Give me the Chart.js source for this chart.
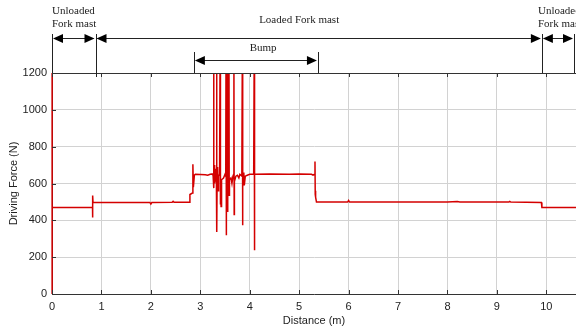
<!DOCTYPE html>
<html>
<head>
<meta charset="utf-8">
<script src="https://cdn.jsdelivr.net/npm/chart.js@4"></script>
<style>
  body { margin: 0; background: #fff; }
  canvas { display: block; }
</style>
</head>
<body>
<canvas id="forceChart" width="576" height="332"></canvas>
<script>
// distance (m) and driving force (N)
const distance = [
  0, 0, 0.005, 0.82, 0.82, 0.825, 0.83,
  1.98, 2.0, 2.02, 2.43, 2.45, 2.47, 2.78,
  2.79, 2.84, 2.85, 2.86, 2.88, 2.9, 3.1, 3.15, 3.2, 3.25,
  3.26, 3.27, 3.275, 3.28, 3.29, 3.3, 3.31,
  3.325, 3.33, 3.335, 3.34, 3.35, 3.36, 3.37,
  3.39, 3.4, 3.405, 3.41, 3.42, 3.43,
  3.47, 3.5, 3.515, 3.52, 3.525, 3.53, 3.545, 3.55, 3.555, 3.56, 3.575, 3.58, 3.585, 3.59,
  3.62, 3.64, 3.66, 3.675, 3.68, 3.685, 3.69, 3.72, 3.75, 3.78, 3.8, 3.84,
  3.85, 3.855, 3.86, 3.88, 3.89, 3.91, 3.95, 4.0, 4.08, 4.09, 4.095, 4.1,
  4.4, 4.8, 5.0, 5.25, 5.28, 5.31, 5.32, 5.325, 5.33, 5.335, 5.35,
  5.98, 6.0, 6.02, 7.5, 8.0, 8.2, 8.25, 9.24, 9.26, 9.28, 9.9, 9.91, 10.6
];
const force = [
  0, 1200, 470, 470, 415, 535, 497,
  497, 488, 497, 498, 503, 498, 498,
  540, 548, 705, 580, 645, 650, 648, 645, 650, 652,
  640, 1300, 575, 700, 600, 680, 610,
  630, 1300, 337, 620, 690, 560, 640,
  650, 1300, 486, 640, 475, 620,
  630, 650, 640, 1300, 319, 600, 650, 1300, 445, 620, 640, 1300, 536, 620,
  630, 600, 640, 650, 1300, 432, 610, 640, 645, 630, 650, 640,
  1300, 373, 580, 660, 590, 640, 645, 650, 650, 1300, 238, 650,
  652, 650, 652, 650, 645, 650, 719, 540, 560, 526, 499,
  499, 508, 499, 500, 499, 502, 499, 499, 503, 499, 497, 470, 470
];
const xTicks = [0, 1, 2, 3, 4, 5, 6, 7, 8, 9, 10];
const yTicks = [0, 200, 400, 600, 800, 1000, 1200];

// annotation arrows above the plot (distance units)
const spans = [
  { from: 0, to: 0.88, y: 38 },
  { from: 0.88, to: 9.91, y: 38 },
  { from: 9.91, to: 10.56, y: 38 },
  { from: 2.87, to: 5.38, y: 60 }
];
const markers = [
  { at: 0, top: 34, bottom: 73 },
  { at: 0.88, top: 34, bottom: 77 },
  { at: 9.91, top: 34, bottom: 73 },
  { at: 10.56, top: 34, bottom: 73 },
  { at: 2.87, top: 52, bottom: 73 },
  { at: 5.38, top: 52, bottom: 73 }
];
const notes = [
  { text: 'Unloaded', at: 0, y: 11, align: 'left' },
  { text: 'Fork mast', at: 0, y: 24, align: 'left' },
  { text: 'Loaded Fork mast', at: 5.0, y: 20, align: 'center' },
  { text: 'Bump', at: 4.27, y: 48, align: 'center' },
  { text: 'Unloaded', at: 9.83, y: 11, align: 'left' },
  { text: 'Fork mast', at: 9.83, y: 24, align: 'left' }
];

const points = distance.map((d, i) => ({ x: d, y: force[i] }));

function arrowHead(ctx, x, y, dir) {
  ctx.beginPath();
  ctx.moveTo(x, y);
  ctx.lineTo(x - dir * 10, y - 4.5);
  ctx.lineTo(x - dir * 10, y + 4.5);
  ctx.closePath();
  ctx.fill();
}

const framePlugin = {
  id: 'frame',
  afterDraw(chart) {
    const ctx = chart.ctx;
    const xs = chart.scales.x, ys = chart.scales.y;
    const a = chart.chartArea;
    ctx.save();
    // box top + inward ticks
    ctx.strokeStyle = '#333';
    ctx.lineWidth = 1;
    ctx.beginPath();
    ctx.moveTo(a.left, a.top + 0.5);
    ctx.lineTo(a.right, a.top + 0.5);
    xTicks.forEach(t => {
      const px = Math.round(xs.getPixelForValue(t)) + 0.5;
      ctx.moveTo(px, a.bottom);
      ctx.lineTo(px, a.bottom - 4);
      ctx.moveTo(px, a.top);
      ctx.lineTo(px, a.top + 4);
    });
    yTicks.forEach(t => {
      const py = Math.round(ys.getPixelForValue(t)) + 0.5;
      ctx.moveTo(a.left, py);
      ctx.lineTo(a.left + 4, py);
    });
    ctx.stroke();

    // annotation arrows
    ctx.strokeStyle = '#222';
    ctx.fillStyle = '#000';
    ctx.beginPath();
    markers.forEach(m => {
      const px = Math.round(xs.getPixelForValue(m.at)) + 0.5;
      ctx.moveTo(px, m.top);
      ctx.lineTo(px, m.bottom);
    });
    ctx.stroke();
    spans.forEach(s => {
      const x1 = xs.getPixelForValue(s.from), x2 = xs.getPixelForValue(s.to);
      ctx.beginPath();
      ctx.moveTo(x1 + 2, s.y + 0.5);
      ctx.lineTo(x2 - 2, s.y + 0.5);
      ctx.stroke();
      arrowHead(ctx, x1 + 1, s.y + 0.5, -1);
      arrowHead(ctx, x2 - 1, s.y + 0.5, 1);
    });
    ctx.font = '11px "Liberation Serif", serif';
    ctx.fillStyle = '#222';
    ctx.textBaseline = 'middle';
    notes.forEach(n => {
      ctx.textAlign = n.align;
      ctx.fillText(n.text, xs.getPixelForValue(n.at), n.y);
    });
    ctx.restore();
  }
};

const tickFont = { family: '"Liberation Sans", Arial, sans-serif', size: 11 };

new Chart(document.getElementById('forceChart'), {
  type: 'line',
  data: {
    datasets: [{
      data: points,
      borderColor: '#d40000',
      borderWidth: 1.5,
      pointRadius: 0,
      tension: 0,
      fill: false,
      clip: { left: 3, top: 0, right: 0, bottom: 0 }
    }]
  },
  options: {
    responsive: false,
    animation: false,
    devicePixelRatio: 1,
    layout: { padding: { top: 73, right: 0, left: 0, bottom: 0 } },
    plugins: { legend: { display: false }, tooltip: { enabled: false } },
    scales: {
      x: {
        type: 'linear',
        min: 0,
        max: 10.6,
        afterFit: s => { s.height = 38; },
        afterBuildTicks: s => { s.ticks = xTicks.map(v => ({ value: v })); },
        grid: { color: '#d2d2d2', drawTicks: false },
        border: { color: '#333' },
        ticks: { padding: 6, color: '#222', font: tickFont, callback: v => String(v) },
        title: {
          display: true,
          text: 'Distance (m)',
          color: '#222',
          padding: { top: 0, bottom: 4 },
          font: tickFont
        }
      },
      y: {
        min: 0,
        max: 1200,
        afterFit: s => { s.width = 52; },
        afterBuildTicks: s => { s.ticks = yTicks.map(v => ({ value: v })); },
        grid: { color: '#d2d2d2', drawTicks: false },
        border: { color: '#333' },
        ticks: { padding: 5, color: '#222', font: tickFont, callback: v => String(v) },
        title: {
          display: true,
          text: 'Driving Force (N)',
          color: '#222',
          padding: { top: 7, bottom: 0 },
          font: tickFont
        }
      }
    }
  },
  plugins: [framePlugin]
});
</script>
</body>
</html>
